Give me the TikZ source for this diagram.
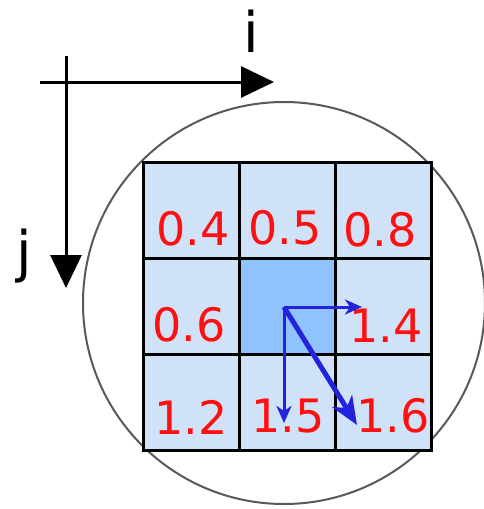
\documentclass[tikz,border=0pt]{standalone}
\usepackage{fontspec}
\setmainfont{DejaVu Sans}
\usetikzlibrary{arrows.meta}
\definecolor{cellblue}{HTML}{CFE2F7}
\definecolor{midblue}{HTML}{90C2FC}
\definecolor{vecblue}{HTML}{2323DD}
\definecolor{numred}{HTML}{FF1010}
\tikzset{
  cell/.style={draw=black, line width=2.6pt, fill=cellblue, minimum size=96pt, inner sep=0pt, anchor=north west},
  num/.style={text=numred, font=\fontsize{46}{46}\selectfont, inner sep=0pt, anchor=base west},
  axislbl/.style={font=\fontsize{56}{56}\selectfont, inner sep=0pt, anchor=base},
  axis/.style={line width=3pt, -{Triangle[length=33pt,width=31pt]}},
  vec/.style={vecblue, line width=3pt, -{Stealth[length=17pt,width=15pt,inset=5pt]}},
  vecd/.style={vecblue, line width=5pt, -{Stealth[length=28pt,width=23pt,inset=8pt]}}
}
\begin{document}
\begin{tikzpicture}[x=1pt,y=-1pt]
\useasboundingbox (0,0) rectangle (483,509);
\fill[white] (0,0) rectangle (483,509);
\draw[draw=black!65, line width=2pt] (284,303) circle (201);
% grid
\node[cell] (c11) at (142,161) {};
\node[cell] (c21) at (238,161) {};
\node[cell] (c31) at (334,161) {};
\node[cell] (c12) at (142,257) {};
\node[cell, fill=midblue] (c22) at (238,257) {};
\node[cell] (c32) at (334,257) {};
\node[cell] (c13) at (142,353) {};
\node[cell] (c23) at (238,353) {};
\node[cell] (c33) at (334,353) {};
% numbers
\node[num] (n11) at (156,245.5) {0.4};
\node[num] (n21) at (248,244) {0.5};
\node[num] (n31) at (343,246.5) {0.8};
\node[num] (n12) at (152,341.5) {0.6};
\node[num] (n32) at (349,342) {1.4};
\node[num] (n13) at (154,434) {1.2};
\node[num] (n23) at (251,432.5) {1.5};
\node[num] (n33) at (356,432.5) {1.6};
% axes
\coordinate (ax0) at (40,82);
\coordinate (ax1) at (274,82);
\coordinate (ay0) at (66,56);
\coordinate (ay1) at (66,288);
\draw[axis] (ax0) -- (ax1);
\draw[axis] (ay0) -- (ay1);
\node[axislbl] (li) at (251,52) {i};
\node[axislbl] (lj) at (24,271) {j};
% vectors
\coordinate (o) at (284,307);
\coordinate (vr) at (362,307);
\coordinate (vd) at (284,423);
\coordinate (vg) at (357,425);
\draw[vec] (o) -- (vr);
\draw[vec] (o) -- (vd);
\draw[vecd] (o) -- (vg);
\end{tikzpicture}
\end{document}
